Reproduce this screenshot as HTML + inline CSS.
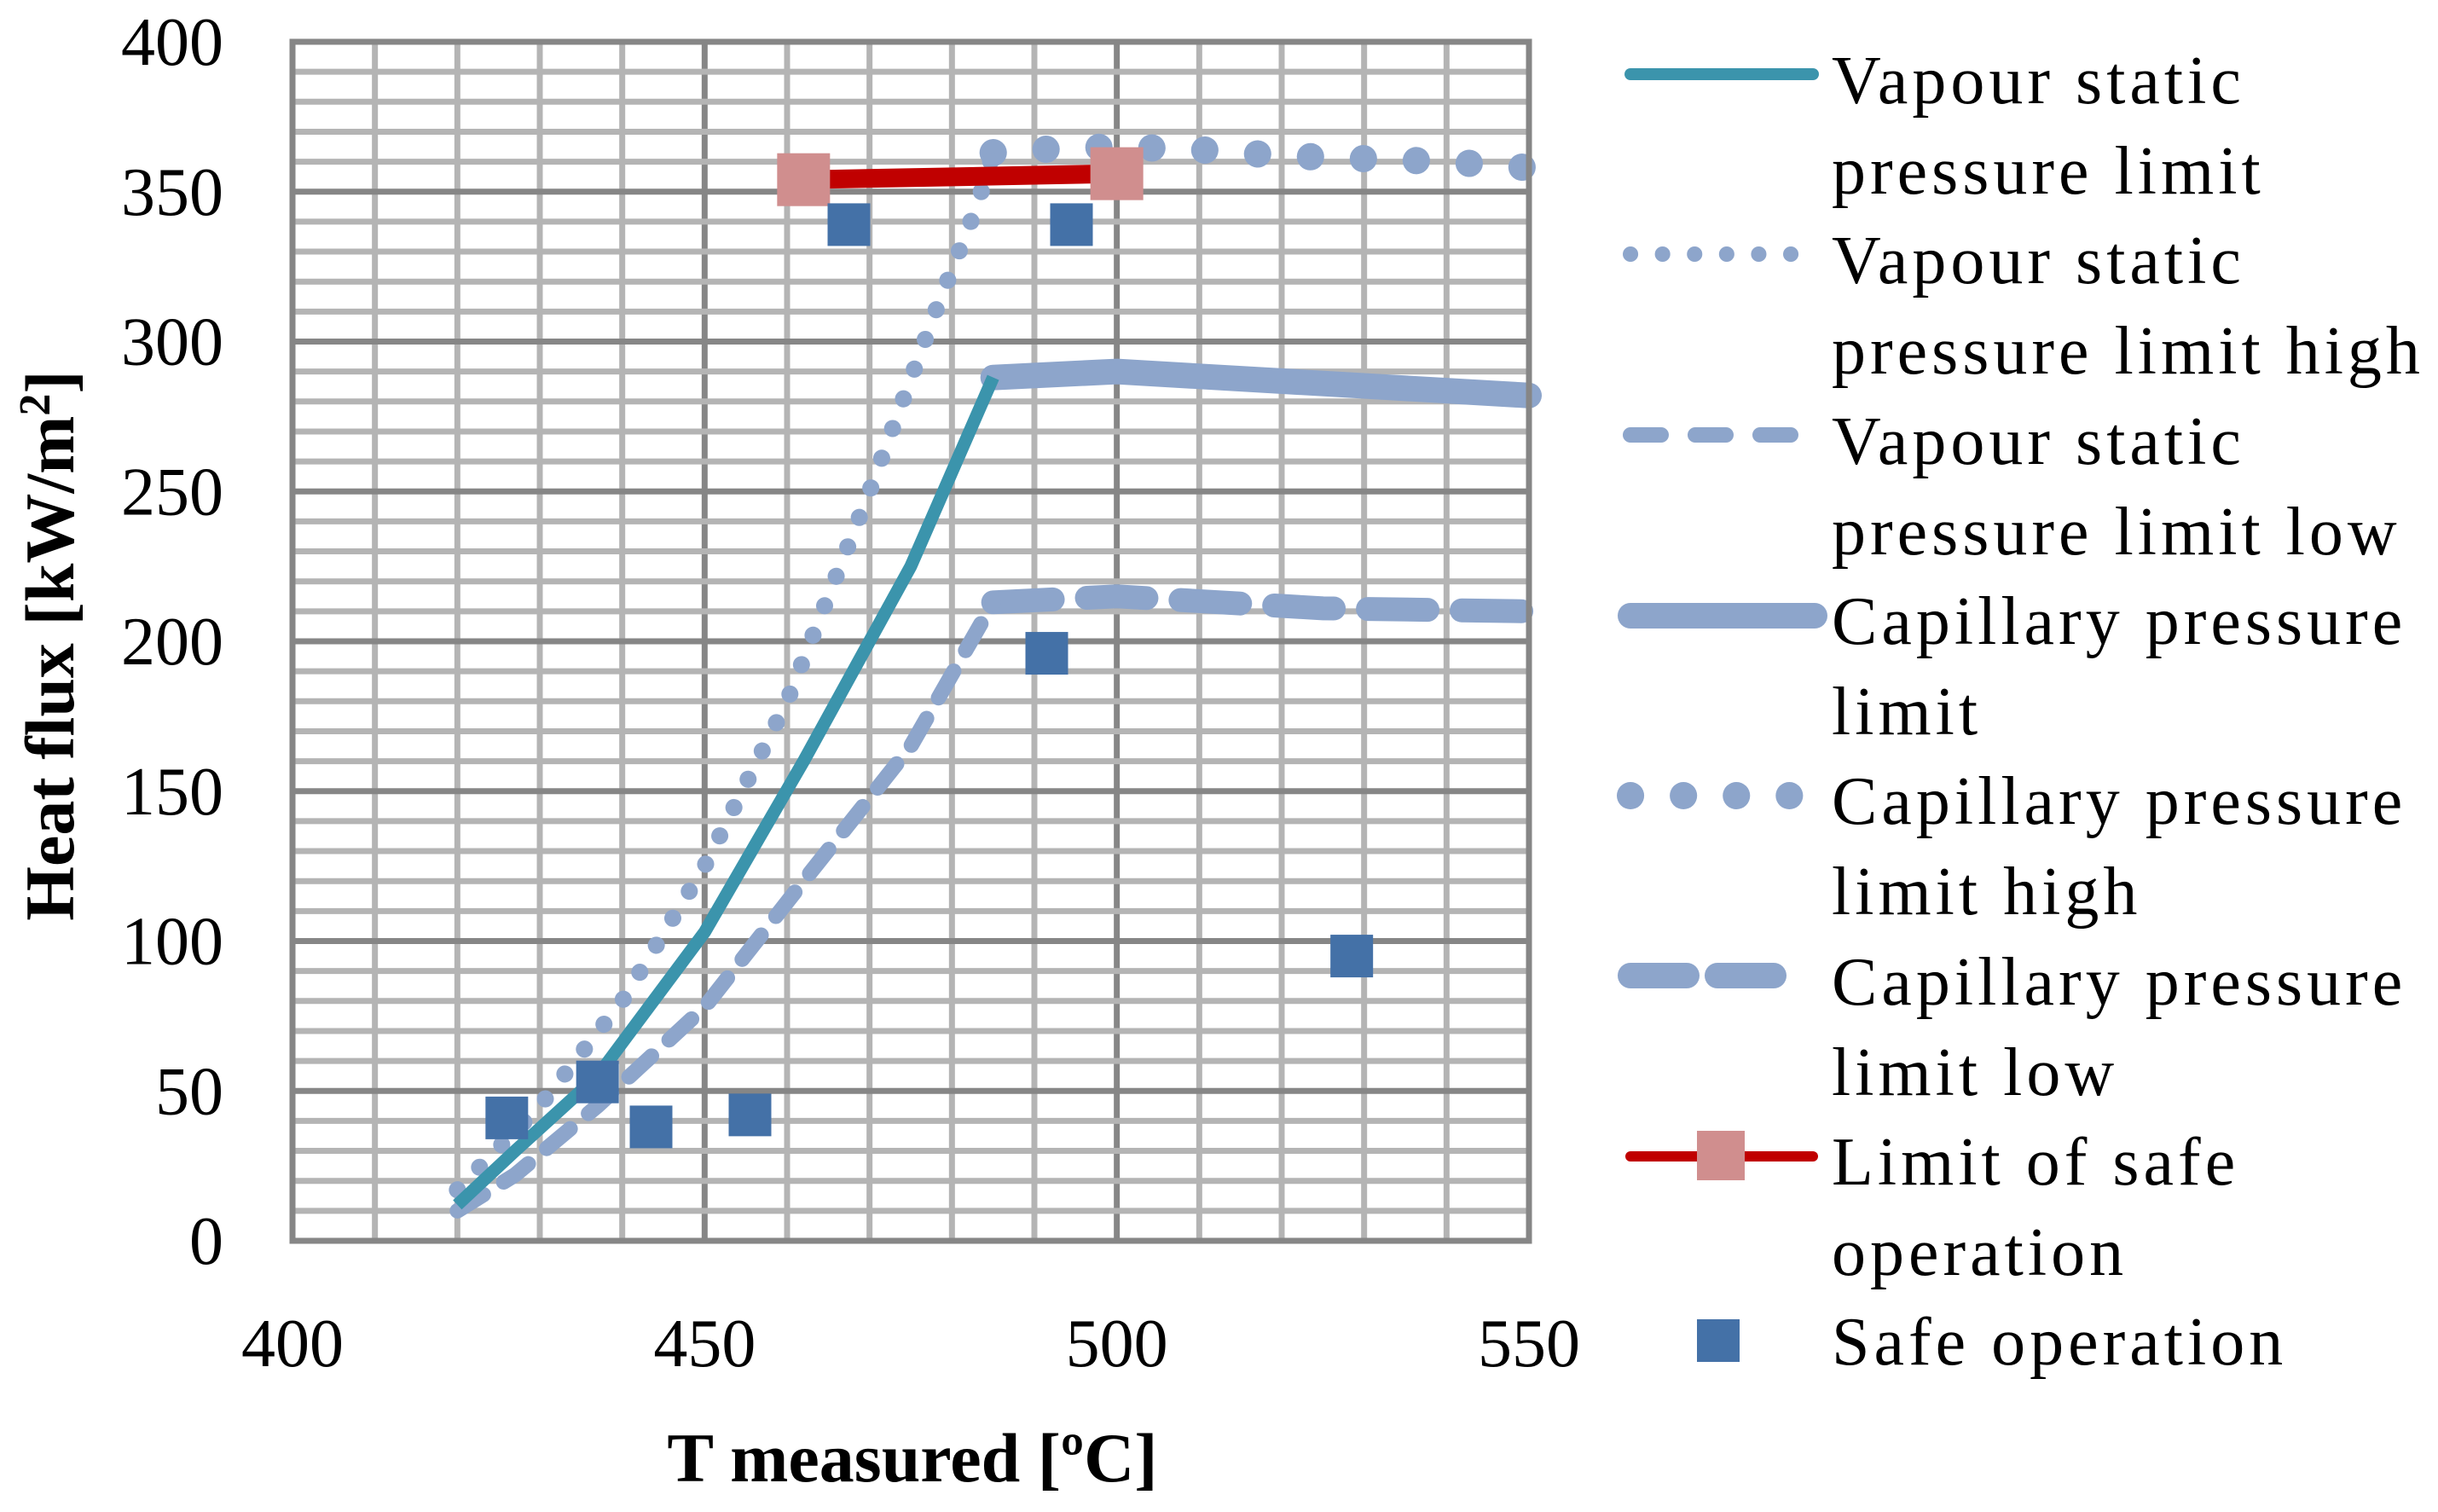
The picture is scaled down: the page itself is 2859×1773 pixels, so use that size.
<!DOCTYPE html>
<html><head><meta charset="utf-8"><style>
html,body{margin:0;padding:0;background:#fff;}
svg{display:block;font-family:"Liberation Serif",serif;}
</style></head><body>
<svg id="chart" width="2859" height="1773" viewBox="0 0 2859 1773" xmlns="http://www.w3.org/2000/svg">
<g id="grid"></g>
<g id="series"></g>
<g id="axes"></g>
<g id="legend"></g>
</svg>
<script>
const xTicks=[400,450,500,550];
const yTicks=[0,50,100,150,200,250,300,350,400];
const vapX=[420,427,437,450,462,475,485];
const vapY=[12,30,55,103,160,225,288];
const vapHighX=[420,430,440,450,460,470,478,483,485];
const vapHighY=[17,45,80,125,180,250,310,345,363];
const vapLowX=[420,427,437,450,462,475,485];
const vapLowY=[10,22,45,78,120,165,213];
const capX=[485,500,525,550];
const capY=[288,290,286,282];
const capHighX=[485,490,500,510,520,530,540,550];
const capHighY=[363,364,365,364,362,361,360,358];
const capLowX=[485,500,525,550];
const capLowY=[213,215,211,210];
const safeLimX=[462,500];
const safeLimY=[354,356];
const safeX=[426,437,443.5,455.5,467.5,494.5,491.5,528.5];
const safeY=[41,53,38,42,339,339,196,95];

const NS='http://www.w3.org/2000/svg';
const X0=343,X1=1793,Y0=1455,Y1=49;
const sx=v=>X0+(v-400)/150*(X1-X0);
const sy=v=>Y0-v/400*(Y0-Y1);
function mk(tag,attrs,parent){const e=document.createElementNS(NS,tag);for(const k in attrs)e.setAttribute(k,attrs[k]);parent.appendChild(e);return e;}
const grid=document.getElementById('grid'),series=document.getElementById('series'),axes=document.getElementById('axes'),legend=document.getElementById('legend');

for(let v=410;v<550;v+=10){const l=mk('line',{x1:sx(v),x2:sx(v),y1:Y1,y2:Y0,stroke:(v%50===0)?'#868686':'#b4b4b4','stroke-width':7},grid);

}
for(let v=10;v<400;v+=10){const l=mk('line',{x1:X0,x2:X1,y1:sy(v),y2:sy(v),stroke:(v%50===0)?'#868686':'#b4b4b4','stroke-width':7},grid);

}
const frame=mk('rect',{x:X0,y:Y1,width:X1-X0,height:Y0-Y1,fill:'none',stroke:'#868686','stroke-width':7},axes);



function path(xs,ys,attrs,name){const d=xs.map((x,i)=>(i?'L':'M')+sx(x)+' '+sy(ys[i])).join(' ');const p=mk('path',Object.assign({d:d,fill:'none'},attrs),series);

return p;}
path(capX,capY,{stroke:'#8da5cb','stroke-width':30,'stroke-linecap':'round','stroke-linejoin':'round'},'capillary-pressure-limit-line');
path(capLowX,capLowY,{stroke:'#8da5cb','stroke-width':28,'stroke-linecap':'round','stroke-dasharray':'70 40'},'capillary-pressure-limit-low-line');
path(capHighX,capHighY,{stroke:'#8da5cb','stroke-width':32,'stroke-linecap':'round','stroke-dasharray':'0.1 62'},'capillary-pressure-limit-high-line');
path(vapLowX,vapLowY,{stroke:'#8da5cb','stroke-width':18,'stroke-linecap':'round','stroke-dasharray':'36 28'},'vapour-static-pressure-limit-low-line');
path(vapHighX,vapHighY,{stroke:'#8da5cb','stroke-width':20,'stroke-linecap':'round','stroke-dasharray':'0.1 37'},'vapour-static-pressure-limit-high-line');
path(vapX,vapY,{stroke:'#3b94ac','stroke-width':15,'stroke-linejoin':'round'},'vapour-static-pressure-limit-line');
path(safeLimX,safeLimY,{stroke:'#c00000','stroke-width':22},'limit-of-safe-operation-line');
safeLimX.forEach((x,i)=>{const r=mk('rect',{x:sx(x)-31,y:sy(safeLimY[i])-31,width:62,height:62,fill:'#d08e8e'},series);

});
safeX.forEach((x,i)=>{const r=mk('rect',{x:sx(x)-25,y:sy(safeY[i])-25,width:50,height:50,fill:'#4471a7'},series);

});

xTicks.forEach(v=>{const t=mk('text',{x:sx(v),y:1602,'font-size':80,'text-anchor':'middle',fill:'#000'},axes);t.textContent=v;

});
yTicks.forEach(v=>{const t=mk('text',{x:262,y:sy(v)+27,'font-size':80,'text-anchor':'end',fill:'#000'},axes);t.textContent=v;

});
</script>
<svg style="position:absolute;left:0;top:0" width="2859" height="1773">
<text x="1070" y="1737" font-size="82" font-weight="bold" text-anchor="middle" font-family="Liberation Serif, serif">T measured [ºC]</text>
<text transform="translate(86,757) rotate(-90)" font-size="82" font-weight="bold" text-anchor="middle" font-family="Liberation Serif, serif">Heat flux [kW/m<tspan font-size="52" dy="-28">2</tspan><tspan dy="28">]</tspan></text>
<g font-family="Liberation Serif, serif" font-size="80" letter-spacing="5" fill="#000">
<g>
<line x1="1912" x2="2126" y1="87" y2="87" stroke="#3b94ac" stroke-width="14" stroke-linecap="round"/>
<text x="2148" y="121">Vapour static</text><text x="2148" y="227">pressure limit</text></g>
<g>
<line x1="1912" x2="2115" y1="298" y2="298" stroke="#8da5cb" stroke-width="18" stroke-linecap="round" stroke-dasharray="0.1 37.5"/>
<text x="2148" y="332">Vapour static</text><text x="2148" y="438">pressure limit high</text></g>
<g>
<line x1="1912" x2="2115" y1="510" y2="510" stroke="#8da5cb" stroke-width="18" stroke-linecap="round" stroke-dasharray="36 40"/>
<text x="2148" y="544">Vapour static</text><text x="2148" y="650">pressure limit low</text></g>
<g>
<line x1="1912" x2="2128" y1="722" y2="722" stroke="#8da5cb" stroke-width="30" stroke-linecap="round"/>
<text x="2148" y="755">Capillary pressure</text><text x="2148" y="861">limit</text></g>
<g>
<line x1="1912" x2="2115" y1="933" y2="933" stroke="#8da5cb" stroke-width="32" stroke-linecap="round" stroke-dasharray="0.1 62"/>
<text x="2148" y="966">Capillary pressure</text><text x="2148" y="1072">limit high</text></g>
<g>
<line x1="1912" x2="2115" y1="1144" y2="1144" stroke="#8da5cb" stroke-width="30" stroke-linecap="round" stroke-dasharray="66 36"/>
<text x="2148" y="1178">Capillary pressure</text><text x="2148" y="1284">limit low</text></g>
<g>
<line x1="1912" x2="2126" y1="1356" y2="1356" stroke="#c00000" stroke-width="12" stroke-linecap="round"/>
<rect x="1990" y="1326" width="56" height="58" fill="#d08e8e"/>
<text x="2148" y="1389">Limit of safe</text><text x="2148" y="1495">operation</text></g>
<g>
<rect x="1990" y="1547" width="50" height="50" fill="#4471a7"/>
<text x="2148" y="1600">Safe operation</text></g>
</g>
</svg>
</body></html>
